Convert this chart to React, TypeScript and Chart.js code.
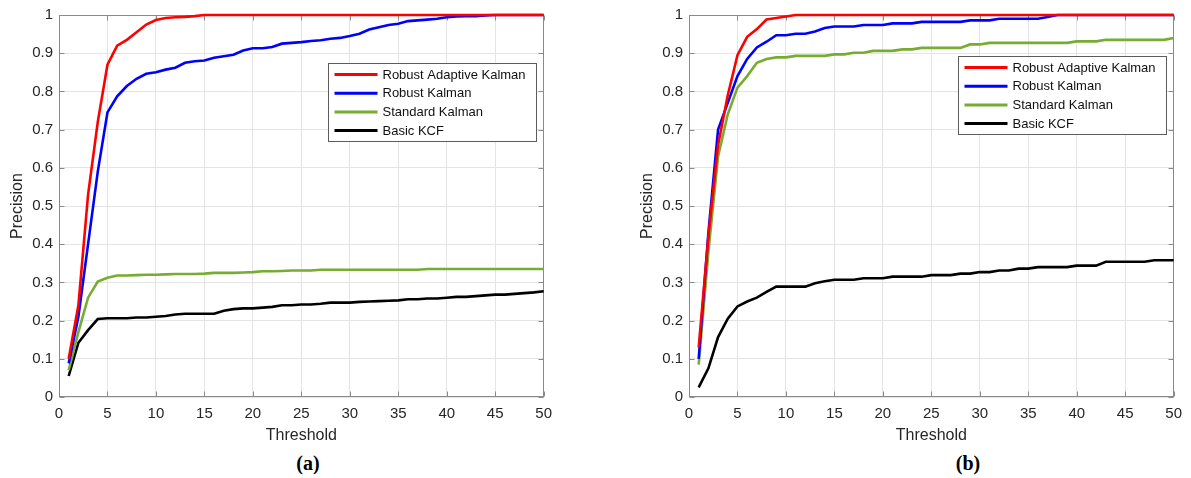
import React, { useEffect, useRef } from "react";
import { Chart, registerables } from "chart.js";

Chart.register(...registerables);

const thresholds = [
  1, 2, 3, 4, 5, 6, 7, 8, 9, 10, 11, 12, 13, 14, 15, 16, 17, 18, 19, 20, 21, 22, 23, 24, 25,
  26, 27, 28, 29, 30, 31, 32, 33, 34, 35, 36, 37, 38, 39, 40, 41, 42, 43, 44, 45, 46, 47, 48, 49, 50,
];

const seriesNames = ["Robust Adaptive Kalman", "Robust Kalman", "Standard Kalman", "Basic KCF"];
const seriesColors = ["#ff0000", "#0000ff", "#77ac30", "#000000"];

const xTicks = [0, 5, 10, 15, 20, 25, 30, 35, 40, 45, 50];
const yTicks = [0, 0.1, 0.2, 0.3, 0.4, 0.5, 0.6, 0.7, 0.8, 0.9, 1];

// (a)
const aRobustAdaptive = [
  0.1, 0.24, 0.53, 0.72, 0.87, 0.92, 0.935, 0.955, 0.975, 0.987, 0.992, 0.994, 0.995, 0.997, 1.0,
  1.0, 1.0, 1.0, 1.0, 1.0, 1.0, 1.0, 1.0, 1.0, 1.0, 1.0, 1.0, 1.0, 1.0, 1.0, 1.0, 1.0, 1.0, 1.0, 1.0,
  1.0, 1.0, 1.0, 1.0, 1.0, 1.0, 1.0, 1.0, 1.0, 1.0, 1.0, 1.0, 1.0, 1.0, 1.0,
];
const aRobust = [
  0.088, 0.21, 0.4, 0.59, 0.745, 0.787, 0.814, 0.833, 0.846, 0.85, 0.857, 0.862, 0.875, 0.879, 0.881,
  0.888, 0.892, 0.896, 0.907, 0.913, 0.913, 0.916, 0.925, 0.927, 0.929, 0.932, 0.934, 0.938, 0.94, 0.945,
  0.951, 0.962, 0.968, 0.974, 0.977, 0.984, 0.986, 0.988, 0.99, 0.994, 0.996, 0.997, 0.997, 0.999, 1.0,
  1.0, 1.0, 1.0, 1.0, 1.0,
];
const aStandard = [
  0.07, 0.17, 0.26, 0.302, 0.312, 0.318, 0.318, 0.319, 0.32, 0.32, 0.321, 0.322, 0.322, 0.322, 0.323,
  0.325, 0.325, 0.325, 0.326, 0.327, 0.329, 0.329, 0.33, 0.331, 0.331, 0.331, 0.333, 0.333, 0.333, 0.333,
  0.333, 0.333, 0.333, 0.333, 0.333, 0.333, 0.333, 0.335, 0.335, 0.335, 0.335, 0.335, 0.335, 0.335, 0.335,
  0.335, 0.335, 0.335, 0.335, 0.335,
];
const aBasic = [
  0.055, 0.142, 0.175, 0.204, 0.206, 0.206, 0.206, 0.208, 0.208, 0.21, 0.212, 0.216, 0.218, 0.218, 0.218,
  0.218, 0.226, 0.23, 0.232, 0.232, 0.234, 0.236, 0.24, 0.24, 0.242, 0.242, 0.244, 0.247, 0.247, 0.247,
  0.249, 0.25, 0.251, 0.252, 0.253, 0.256, 0.256, 0.258, 0.258, 0.26, 0.262, 0.262, 0.264, 0.266, 0.268,
  0.268, 0.27, 0.272, 0.274, 0.277,
];

// (b)
const bRobustAdaptive = [
  0.13, 0.42, 0.66, 0.79, 0.895, 0.943, 0.963, 0.988, 0.992, 0.996, 1.0, 1.0, 1.0, 1.0, 1.0,
  1.0, 1.0, 1.0, 1.0, 1.0, 1.0, 1.0, 1.0, 1.0, 1.0, 1.0, 1.0, 1.0, 1.0, 1.0, 1.0, 1.0, 1.0, 1.0, 1.0,
  1.0, 1.0, 1.0, 1.0, 1.0, 1.0, 1.0, 1.0, 1.0, 1.0, 1.0, 1.0, 1.0, 1.0, 1.0,
];
const bRobust = [
  0.1, 0.43, 0.7, 0.77, 0.84, 0.885, 0.915, 0.93, 0.947, 0.947, 0.951, 0.951, 0.957, 0.966, 0.97,
  0.97, 0.97, 0.974, 0.974, 0.974, 0.978, 0.978, 0.978, 0.982, 0.982, 0.982, 0.982, 0.982, 0.986, 0.986,
  0.986, 0.99, 0.99, 0.99, 0.99, 0.99, 0.995, 1.0, 1.0, 1.0, 1.0, 1.0, 1.0, 1.0, 1.0,
  1.0, 1.0, 1.0, 1.0, 1.0,
];
const bStandard = [
  0.085, 0.38, 0.63, 0.74, 0.81, 0.84, 0.875, 0.885, 0.889, 0.889, 0.893, 0.893, 0.893, 0.893, 0.897,
  0.897, 0.901, 0.901, 0.906, 0.906, 0.906, 0.91, 0.91, 0.914, 0.914, 0.914, 0.914, 0.914, 0.923, 0.923,
  0.927, 0.927, 0.927, 0.927, 0.927, 0.927, 0.927, 0.927, 0.927, 0.931, 0.931, 0.931, 0.935, 0.935, 0.935,
  0.935, 0.935, 0.935, 0.935, 0.94,
];
const bBasic = [
  0.025, 0.075, 0.157, 0.205, 0.237, 0.25, 0.26, 0.275, 0.289, 0.289, 0.289, 0.289, 0.298, 0.303, 0.307,
  0.307, 0.307, 0.311, 0.311, 0.311, 0.315, 0.315, 0.315, 0.315, 0.319, 0.319, 0.319, 0.323, 0.323, 0.327,
  0.327, 0.331, 0.331, 0.336, 0.336, 0.34, 0.34, 0.34, 0.34, 0.344, 0.344, 0.344, 0.354, 0.354, 0.354,
  0.354, 0.354, 0.358, 0.358, 0.358,
];

const FONT = "'Liberation Sans', Arial, Helvetica, sans-serif";
const TEXT = "#262626";
const FRAME = "#8a8a8a";
const GRID = "#e4e4e4";

type Props = { series: number[][]; legendTop: number };

function PrecisionChart({ series, legendTop }: Props) {
  const ref = useRef<HTMLCanvasElement | null>(null);

  useEffect(() => {
    if (!ref.current) return;

    const framePlugin = {
      id: "frameTicks",
      beforeDatasetsDraw(chart: any) {
        const { ctx, chartArea: ca, scales } = chart;
        ctx.save();
        ctx.strokeStyle = FRAME;
        ctx.lineWidth = 1;
        const L = Math.round(ca.left) + 0.5;
        const R = Math.round(ca.right) - 0.5;
        const T = Math.round(ca.top) + 0.5;
        const B = Math.round(ca.bottom) - 0.5;
        ctx.strokeRect(L, T, R - L, B - T);
        ctx.beginPath();
        xTicks.forEach((v) => {
          const px = Math.round(scales.x.getPixelForValue(v)) + 0.5;
          ctx.moveTo(px, B);
          ctx.lineTo(px, B - 5);
          ctx.moveTo(px, T);
          ctx.lineTo(px, T + 5);
        });
        yTicks.forEach((v) => {
          const py = Math.round(scales.y.getPixelForValue(v)) + 0.5;
          ctx.moveTo(L, py);
          ctx.lineTo(L + 5, py);
          ctx.moveTo(R, py);
          ctx.lineTo(R - 5, py);
        });
        ctx.stroke();
        ctx.restore();
      },
    };

    const legendPlugin = {
      id: "insideLegend",
      afterDatasetsDraw(chart: any) {
        const { ctx, chartArea: ca } = chart;
        const w = 208;
        const h = 78;
        const lx = Math.round(ca.right - 216) + 0.5;
        const ly = Math.round(ca.top + legendTop) + 0.5;
        ctx.save();
        ctx.fillStyle = "#ffffff";
        ctx.fillRect(lx, ly, w, h);
        ctx.strokeStyle = "#5c5c5c";
        ctx.lineWidth = 1;
        ctx.strokeRect(lx, ly, w, h);
        ctx.font = `13px ${FONT}`;
        ctx.textBaseline = "middle";
        seriesNames.forEach((name, i) => {
          const y = ly + 11 + i * 18.7;
          ctx.strokeStyle = seriesColors[i];
          ctx.lineWidth = 3;
          ctx.beginPath();
          ctx.moveTo(lx + 6, y);
          ctx.lineTo(lx + 49, y);
          ctx.stroke();
          ctx.fillStyle = "#111111";
          ctx.fillText(name, lx + 54, y + 0.5);
        });
        ctx.restore();
      },
    };

    const chart = new Chart(ref.current, {
      type: "line",
      data: {
        datasets: series.map((vals, i) => ({
          label: seriesNames[i],
          data: thresholds.map((t, j) => ({ x: t, y: vals[j] })),
          borderColor: seriesColors[i],
          backgroundColor: seriesColors[i],
          borderWidth: 2.6,
          pointRadius: 0,
          tension: 0,
          fill: false,
          clip: 4,
          order: i,
        })).reverse(),
      },
      options: {
        responsive: false,
        animation: false,
        events: [],
        layout: { padding: { top: 13, right: 13, left: 0, bottom: 0 } },
        plugins: {
          legend: { display: false },
          tooltip: { enabled: false },
          title: { display: false },
        },
        scales: {
          x: {
            type: "linear",
            min: 0,
            max: 50,
            afterBuildTicks: (s: any) => {
              s.ticks = xTicks.map((v) => ({ value: v }));
            },
            afterFit: (s: any) => {
              s.height = 53;
            },
            grid: { color: GRID, lineWidth: 1, drawTicks: false },
            border: { display: false },
            ticks: {
              color: TEXT,
              font: { family: FONT, size: 15 },
              padding: 8,
              maxRotation: 0,
              callback: (v: any) => String(v),
            },
            title: {
              display: true,
              text: "Threshold",
              color: TEXT,
              font: { family: FONT, size: 16 },
              padding: { top: 0, bottom: 5 },
            },
          },
          y: {
            type: "linear",
            min: 0,
            max: 1,
            afterBuildTicks: (s: any) => {
              s.ticks = yTicks.map((v) => ({ value: v }));
            },
            afterFit: (s: any) => {
              s.width = 59;
            },
            grid: { color: GRID, lineWidth: 1, drawTicks: false },
            border: { display: false },
            ticks: {
              color: TEXT,
              font: { family: FONT, size: 15 },
              padding: 6,
              callback: (v: any) => String(Math.round(v * 10) / 10),
            },
            title: {
              display: true,
              text: "Precision",
              color: TEXT,
              font: { family: FONT, size: 16 },
              padding: { top: 8, bottom: 0 },
            },
          },
        },
      },
      plugins: [framePlugin, legendPlugin],
    } as any);

    return () => chart.destroy();
  }, [series, legendTop]);

  return <canvas ref={ref} width={560} height={450} style={{ display: "block" }} />;
}

const captionStyle: React.CSSProperties = {
  position: "absolute",
  top: 451,
  fontFamily: "'Liberation Serif', 'Times New Roman', serif",
  fontWeight: "bold",
  fontSize: 20,
  color: "#000",
  lineHeight: "24px",
  width: 60,
  textAlign: "center",
};

export default function App() {
  return (
    <div
      style={{
        position: "absolute",
        left: 0,
        top: 0,
        width: 1191,
        height: 478,
        background: "#fff",
        overflow: "hidden",
      }}
    >
      <div style={{ position: "absolute", left: 0, top: 0 }}>
        <PrecisionChart series={[aRobustAdaptive, aRobust, aStandard, aBasic]} legendTop={48} />
      </div>
      <div style={{ position: "absolute", left: 630, top: 0 }}>
        <PrecisionChart series={[bRobustAdaptive, bRobust, bStandard, bBasic]} legendTop={41} />
      </div>
      <div style={{ ...captionStyle, left: 308 - 30 }}>(a)</div>
      <div style={{ ...captionStyle, left: 968 - 30 }}>(b)</div>
    </div>
  );
}
